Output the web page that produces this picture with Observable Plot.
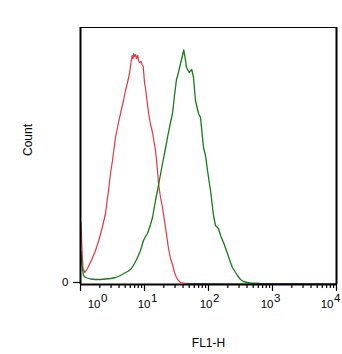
<!DOCTYPE html>
<html><head><meta charset="utf-8">
<script src="https://cdn.jsdelivr.net/npm/d3@7"></script>
<script src="https://cdn.jsdelivr.net/npm/@observablehq/plot@0.6"></script>
<style>html,body{margin:0;padding:0;background:#fff}</style>
</head><body><div id="chart"></div>
<script>
// Red histogram (FL1-H value, count)
const redX = [1.018,1.055,1.094,1.167,1.286,1.523,1.715,1.931,2.207,2.459,2.738,2.943,3.162,3.522,3.924,4.217,4.697,5.048,5.425,5.831,6.152,6.42,6.61,6.80,7.05,7.31,7.50,7.86,8.06,8.35,8.88,9.14,9.55,10.0,10.37,10.94,11.55,12.41,13.34,14.85,15.96,16.55,17.78,19.11,21.29,23.71,25.48,27.38,29.43,31.62,33.98,36.52,40.63,52.3,75,316,10000];
const redY = [62,34,16,12,16,26,34,44,58,71,94,111,124,147,162,171,184,194,202,211,222,229,226,231,228,230,226,229,224,222,223,220,218,202,196,184,172,160,152,134,114,101,87,77,57,36,26,20,12,7,4,2,1.5,1,1,0.5,0];
// Green histogram
const greenX = [1.018,1.055,1.114,1.197,1.433,1.715,2.054,2.459,2.943,3.522,4.217,5.048,5.623,6.26,6.98,7.78,8.66,9.64,10.37,11.14,12.41,13.34,14.85,15.96,17.78,19.11,21.29,22.87,25.48,27.38,29.43,31.62,33.98,36.52,39.24,41.1,43.7,45.3,49.9,54.8,58.3,62.6,69.8,75,83.5,89.8,96.5,107.5,119.7,128.6,143.3,154,171.5,198.1,220.7,237.1,264.1,283.9,316.2,352.2,406.7,452.9,649.4,10000];
const greenY = [33,19,9,7,5.5,5,5,5.5,6,7,9,12,13.5,16,21,27,34,44,48,51,60,67,84,94,110,121,136,147,162,171,189,205,212,221,229,234.5,224,217,212,215,207,184,171,167,137,129,114,94,69,59,56,49,42,31,22,17,12,9,5,3,2,1.5,1,0.5];

const decades = [1, 10, 100, 1000, 10000];
const exponents = ["0", "1", "2", "3", "4"];
const yTicks = [0];
const yTickLabels = ["0"];
const xLabel = "FL1-H";
const yLabel = "Count";

const xDomain = [1, 10000];
const yDomain = [0, 257];

const minorTicks = [];
for (const d of decades.slice(0, -1)) for (let k = 2; k <= 9; k++) minorTicks.push(d * k);

const red = redX.map((x, i) => ({x, y: redY[i]}));
const green = greenX.map((x, i) => ({x, y: greenY[i]}));

const labelShift = [20, 6, 4, 1, -3];
const labelMarks = [];
decades.forEach((d, i) => {
  labelMarks.push(Plot.text([d], {x: v => v, y: yDomain[0], text: () => "10", textAnchor: "end", dx: labelShift[i], dy: 20, fontSize: 11.5}));
  labelMarks.push(Plot.text([d], {x: v => v, y: yDomain[0], text: () => exponents[i], textAnchor: "start", dx: labelShift[i] + 0.5, dy: 14, fontSize: 11.5}));
});

const chart = Plot.plot({
  width: 342, height: 354,
  marginLeft: 80, marginRight: 6, marginTop: 27, marginBottom: 70,
  style: {fontFamily: "'Liberation Sans', Arial, sans-serif", fontSize: "12px", background: "#fff", color: "#000"},
  x: {type: "log", domain: xDomain},
  y: {domain: yDomain},
  marks: [
    Plot.line(red, {x: "x", y: "y", stroke: "#e2363f", strokeWidth: 1.2}),
    Plot.line(green, {x: "x", y: "y", stroke: "#137d18", strokeWidth: 1.3}),
    Plot.frame({stroke: "#000", strokeWidth: 1}),
    Plot.ruleX(xDomain, {stroke: "#000", strokeWidth: 2}),
    Plot.ruleY([yDomain[0]], {stroke: "#000", strokeWidth: 2}),
    Plot.axisX(minorTicks, {tickSize: 4, tickFormat: () => "", label: null, strokeWidth: 1.2}),
    Plot.axisX(decades, {tickSize: 7, tickFormat: () => "", label: null, strokeWidth: 1.2}),
    ...labelMarks,
    Plot.axisY(yTicks, {tickSize: 7, tickPadding: 5, tickFormat: (d, i) => yTickLabels[i], label: null, fontSize: 11.5, dy: -2, strokeWidth: 1.2}),
    Plot.text([yLabel], {frameAnchor: "left", rotate: -90, dx: -52, lineAnchor: "middle", fontSize: 12}),
    Plot.text([xLabel], {frameAnchor: "bottom", dy: 58.5, lineAnchor: "middle", fontSize: 12})
  ]
});
document.getElementById("chart").append(chart);
</script>
</body></html>
